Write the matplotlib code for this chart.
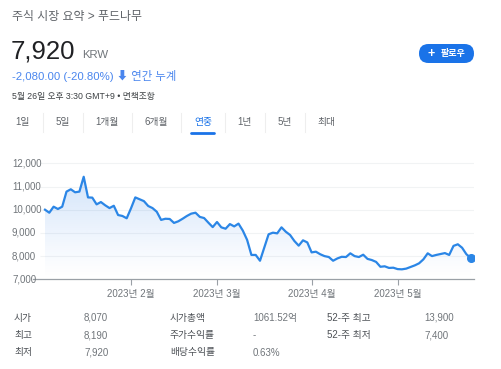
import numpy as np
import pandas as pd
import matplotlib
matplotlib.use('Agg')
import matplotlib.pyplot as plt
import matplotlib.transforms as mtransforms
from matplotlib.patches import FancyBboxPatch, Polygon

# -------------------------------------------------------
# Data
holidays = ['2023-01-23', '2023-01-24', '2023-03-01', '2023-05-01', '2023-05-05']
dates = pd.bdate_range('2023-01-02', '2023-05-26')
dates = dates[~dates.isin(pd.to_datetime(holidays))]

prices = [10000, 9870, 10130, 10030, 10130, 10780, 10880, 10750, 10780, 11420,
          10530, 10520, 10230, 10330, 10190, 10070, 10170, 9770, 9730, 9630,
          10060, 10530, 10450, 10370, 10160, 10070, 9910, 9560, 9610, 9600,
          9430, 9500, 9610, 9730, 9830, 9870, 9690, 9640, 9440, 9250,
          9470, 9240, 9180, 9380, 9280, 9400, 9100, 8700, 8050,
          8050, 7800, 8370, 8940, 9010, 8980, 9240, 9050, 8910, 8650,
          8450, 8680, 8590, 8160, 8190, 8080, 8000, 7960, 7800, 7900,
          7970, 7960, 8120, 8000, 7960, 8060, 7880,
          7830, 7750, 7540, 7560, 7490, 7500, 7440, 7430, 7460, 7530,
          7600, 7690, 7860, 8120, 8000, 8050, 8090, 8130, 8050, 8440,
          8510, 8360, 8080, 7920]

y_ticks = [7000, 8000, 9000, 10000, 11000, 12000]
tabs = ['1일', '5일', '1개월', '6개월', '연중', '1년', '5년', '최대']
selected_tab = '연중'

table_rows = [
    ['시가', '8,070', '시가총액', '1061.52억', '52-주 최고', '13,900'],
    ['최고', '8,190', '주가수익률', '-', '52-주 최저', '7,400'],
    ['최저', '7,920', '배당수익률', '0.63%', '', ''],
]

title = '주식 시장 요약 > 푸드나무'
last_price = '7,920'
currency = 'KRW'
change = '-2,080.00 (-20.80%) \u2B07 연간 누계'
stamp = '5월 26일 오후 3:30 GMT+9 • 면책조항'

# -------------------------------------------------------
fonts = ['Liberation Sans', 'Noto Sans CJK KR', 'DejaVu Sans']
plt.rcParams['font.family'] = fonts

blue = '#1a73e8'
line_blue = '#2b86e6'

fig = plt.figure(figsize=(5.01, 3.69), dpi=100)

# overlay in pixel coords for header, tabs and table
ov = fig.add_axes([0, 0, 1, 1])
ov.set_xlim(0, 501)
ov.set_ylim(369, 0)
ov.axis('off')

ov.text(12, 17, title, fontsize=8.6, color='#5f6368', va='center')
ov.text(11, 58, last_price, fontsize=18.5, color='#202124', va='baseline')
ov.text(82, 58, currency, fontsize=8.2, color='#70757a', va='baseline')
ov.text(12, 76, change, fontsize=8.2, color='#4a86ee', va='center')
ov.text(12, 96, stamp, fontsize=6.3, color='#3c4043', va='center')

pill = FancyBboxPatch((419, 44), 55, 19, boxstyle='round,pad=0,rounding_size=9.5',
                      fc=blue, ec='none')
ov.add_patch(pill)
ov.text(431, 53.5, '+', fontsize=9, color='white', ha='center', va='center',
        fontweight='bold')
ov.text(441, 53.5, '팔로우', fontsize=6.5, color='white', va='center',
        fontweight='bold')

# tabs
tab_x = [22.5, 62.5, 107.5, 156.5, 203, 244.5, 284.5, 326.5]
seps = [43, 83, 132, 181, 225, 265, 305]
for tx, lab in zip(tab_x, tabs):
    col = blue if lab == selected_tab else '#5f6368'
    ov.text(tx, 122.5, lab, fontsize=7, color=col, ha='center', va='center')
    if lab == selected_tab:
        ov.plot([tx - 11.5, tx + 11.5], [132.5, 132.5], color=blue, lw=2,
                solid_capstyle='round')
for sx in seps:
    ov.plot([sx, sx], [113, 132], color='#eeeeee', lw=0.8)

# table
col_x = [14, 84, 170, 253, 327, 424]
row_y = [317.5, 335, 352.5]
for ry, row in zip(row_y, table_rows):
    for j, (cx, cell) in enumerate(zip(col_x, row)):
        col = '#4d5156' if j % 2 == 0 else '#70757a'
        ov.text(cx, ry, cell, fontsize=7, color=col, va='center')

# -------------------------------------------------------
# Chart
px_left, px_right = 33, 474
px_bottom, px_top = 279.3, 151.7
ax = fig.add_axes([px_left / 501, 1 - px_bottom / 369,
                   (px_right - px_left) / 501, (px_bottom - px_top) / 369])
ax.patch.set_alpha(0)

x = np.arange(len(prices))
step = 4.3
ax.set_xlim((px_left - 45) / step, (px_right - 45) / step)
ax.set_ylim(7000, 12500)

# light grid
ax.hlines(y_ticks[1:], (40 - 45) / step, (px_right - 45) / step,
          color='#f1f3f4', lw=0.8, zorder=0)

# gradient fill under the line
ymin = 7000
ytop = max(prices)
grad = np.zeros((256, 1, 4))
grad[:, 0, :3] = matplotlib.colors.to_rgb(blue)
grad[:, 0, 3] = np.linspace(0.0, 0.26, 256) ** 1.2
img = ax.imshow(grad, extent=[x[0], x[-1], ymin, ytop], origin='lower',
                aspect='auto', zorder=1, interpolation='bilinear')
verts = [(x[0], ymin)] + list(zip(x, prices)) + [(x[-1], ymin)]
clip = Polygon(verts, closed=True, fc='none', ec='none')
ax.add_patch(clip)
img.set_clip_path(clip)

ax.plot(x, prices, color=line_blue, lw=1.6, zorder=3, solid_joinstyle='round')
ax.plot(x[-1], prices[-1], 'o', color=line_blue, ms=5.5, zorder=4)

# axes styling
for s in ['top', 'right', 'left']:
    ax.spines[s].set_visible(False)
ax.spines['bottom'].set_color('#9aa0a6')
ax.spines['bottom'].set_linewidth(0.9)
ax.set_yticks([])

month_idx = [i for i in range(1, len(dates)) if dates[i].month != dates[i - 1].month]
ax.set_xticks(month_idx)
ax.set_xticklabels([f'{dates[i].year}년 {dates[i].month}월' for i in month_idx],
                   fontsize=7, color='#70757a')
ax.tick_params(axis='x', length=4, width=0.8, color='#9aa0a6', pad=3)

trans = mtransforms.blended_transform_factory(fig.transFigure, ax.transData)
for v in y_ticks:
    ax.text(12 / 501, v, f'{v:,}', transform=trans, fontsize=7, color='#70757a',
            ha='left', va='center')

fig.savefig('out.png', dpi=100)
